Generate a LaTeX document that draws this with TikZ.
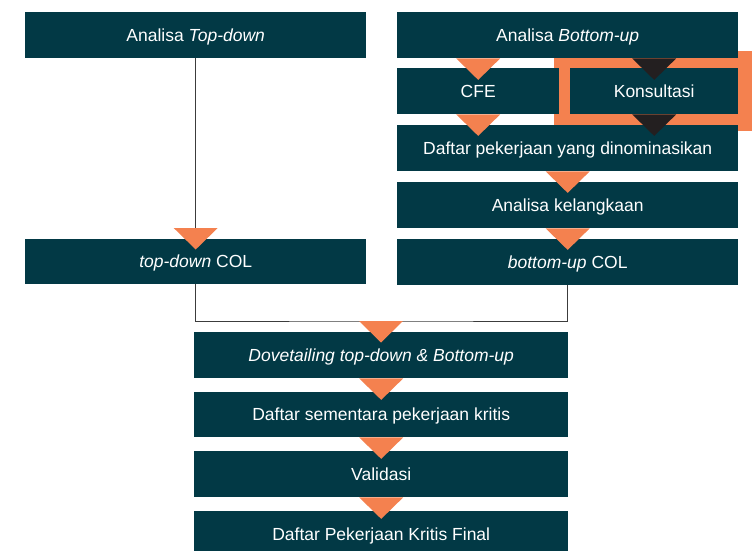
\documentclass[tikz,border=0pt]{standalone}
\usepackage{fontspec}
\setmainfont{Liberation Sans}
\usetikzlibrary{calc}
\definecolor{teal}{HTML}{023945}
\definecolor{accent}{HTML}{F4814F}
\definecolor{ink}{HTML}{231F20}
\definecolor{wire}{HTML}{3C3C3C}
\tikzset{
  box/.style={fill=teal, text=white, inner sep=0pt, anchor=north west,
    text height=12pt, text depth=-1.5pt,
    font=\fontsize{17.5}{20}\selectfont},
  wide/.style={box, minimum width=341pt, minimum height=46pt},
  mid/.style={box, minimum width=374pt, minimum height=46pt},
  wirepath/.style={draw=wire, line width=1pt},
}
% inverted triangle marker: top edge at the bottom of #1, centred on #2, colour #3
\newcommand{\flowtip}[3]{%
  \fill[#3] (#2.north |- #1.south) ++(-22,0) -- ++(44,0) -- ++(-22,21.5) -- cycle;}
\begin{document}
\begin{tikzpicture}[x=1pt, y=-1pt]
\useasboundingbox (0,0) rectangle (752,551);
\begin{scope}
\clip (0,0) rectangle (752,551);

% highlight frame round the consultation step
\fill[accent] (554,51) rectangle (760,131);

% left column
\node[wide] (td) at (25,12) {Analisa \textit{Top-down}};
\node[wide, minimum height=45pt] (tdcol) at (25,239) {\textit{top-down} COL};

% right column
\node[wide] (bu) at (397,12) {Analisa \textit{Bottom-up}};
\node[box, minimum width=162pt, minimum height=46pt] (cfe) at (397,68) {CFE};
\node[box, minimum width=168pt, minimum height=46pt] (kon) at (570,68) {Konsultasi};
\node[wide] (dpn) at (397,125) {Daftar pekerjaan yang dinominasikan};
\node[wide] (ak) at (397,182) {Analisa kelangkaan};
\node[wide] (bucol) at (397,239) {\textit{bottom-up} COL};

% merged column
\node[mid] (dov) at (194,332) {\textit{Dovetailing top-down \& Bottom-up}};
\node[mid, minimum height=45pt] (ds) at (194,392) {Daftar sementara pekerjaan kritis};
\node[mid] (val) at (194,451) {Validasi};
\node[mid] (fin) at (194,511) {Daftar Pekerjaan Kritis Final};

% connectors
\coordinate (join) at (381,321);
\draw[wirepath] (td.south) -- (tdcol.north);
\draw[wirepath] (tdcol.south) |- (join) -| (bucol.south);

% step markers
\flowtip{bu}{cfe}{accent}
\flowtip{bu}{kon}{ink}
\flowtip{cfe}{cfe}{accent}
\flowtip{kon}{kon}{ink}
\flowtip{dpn}{ak}{accent}
\flowtip{ak}{bucol}{accent}
\fill[accent] (tdcol.north) ++(-22,-11) -- ++(44,0) -- ++(-22,21.5) -- cycle;
\fill[accent] (join) ++(-22,0) -- ++(44,0) -- ++(-22,21.5) -- cycle;
\flowtip{dov}{ds}{accent}
\flowtip{ds}{val}{accent}
\flowtip{val}{fin}{accent}
\end{scope}
\end{tikzpicture}
\end{document}
